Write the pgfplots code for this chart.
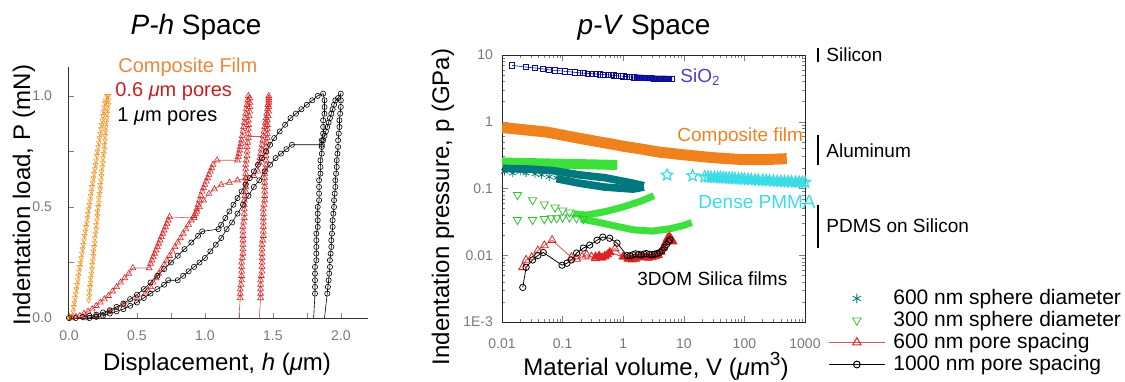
\documentclass[border=0pt]{standalone}
\usepackage{fontspec}
\setmainfont{Liberation Sans}
\usepackage{pgfplots}
\pgfplotsset{compat=1.18}
\definecolor{orng}{RGB}{240,150,40}
\definecolor{orngB}{RGB}{240,130,30}
\definecolor{orngT}{RGB}{235,135,60}
\definecolor{redT}{RGB}{200,30,35}
\definecolor{redM}{RGB}{220,35,35}
\definecolor{redL}{RGB}{200,90,95}
\definecolor{grn}{RGB}{60,225,60}
\definecolor{tealc}{RGB}{0,120,125}
\definecolor{cyanc}{RGB}{60,220,230}
\definecolor{bluec}{RGB}{20,20,200}
\definecolor{blueT}{RGB}{80,60,200}
\definecolor{tickgray}{RGB}{120,120,120}
\pgfdeclareplotmark{ostar}{%
  \pgfpathmoveto{\pgfpointpolar{90}{\pgfplotmarksize}}%
  \pgfpathlineto{\pgfpointpolar{126}{0.45\pgfplotmarksize}}%
  \pgfpathlineto{\pgfpointpolar{162}{\pgfplotmarksize}}%
  \pgfpathlineto{\pgfpointpolar{198}{0.45\pgfplotmarksize}}%
  \pgfpathlineto{\pgfpointpolar{234}{\pgfplotmarksize}}%
  \pgfpathlineto{\pgfpointpolar{270}{0.45\pgfplotmarksize}}%
  \pgfpathlineto{\pgfpointpolar{306}{\pgfplotmarksize}}%
  \pgfpathlineto{\pgfpointpolar{342}{0.45\pgfplotmarksize}}%
  \pgfpathlineto{\pgfpointpolar{18}{\pgfplotmarksize}}%
  \pgfpathlineto{\pgfpointpolar{54}{0.45\pgfplotmarksize}}%
  \pgfpathclose\pgfusepathqstroke}
\begin{document}
\begin{tikzpicture}[x=0.5pt,y=0.5pt]
\useasboundingbox (0,0) rectangle (1125,381);
% ---------------- left: P-h space ----------------
\begin{axis}[at={(34.5pt,31.5pt)}, anchor=south west, scale only axis,
  width=149.5pt, height=125.5pt,
  xmin=0, xmax=2.2, ymin=0, ymax=1.13,
  axis lines*=left, axis line style={black!80, line width=0.5pt},
  tick align=inside, major tick length=2.5pt, minor tick length=2.5pt,
  xtick={0,0.5,1,1.5,2}, minor xtick={0.25,0.75,1.25,1.75},
  ytick={0,0.5,1}, minor ytick={0.25,0.75},
  xticklabels={0.0,0.5,1.0,1.5,2.0}, yticklabels={0.0,0.5,1.0},
  tick label style={font=\fontsize{7}{8}\selectfont, text=tickgray},
  xticklabel style={yshift=-3pt}, yticklabel style={xshift=-5pt},
  clip=false]
% composite film
\addplot[orng, line width=0.3pt, mark=triangle, mark size=1.4pt, mark options={rotate=180}] coordinates {
(0.00,0.00)(0.01,0.00)(0.02,0.01)(0.03,0.03)(0.035,0.05)(0.04,0.07)(0.045,0.09)(0.05,0.11)(0.055,0.13)(0.06,0.15)(0.065,0.17)(0.07,0.19)(0.075,0.21)(0.08,0.23)(0.085,0.25)(0.09,0.27)(0.095,0.29)(0.10,0.31)(0.105,0.33)(0.11,0.35)(0.115,0.37)(0.12,0.39)(0.125,0.41)(0.13,0.43)(0.135,0.45)(0.14,0.47)(0.145,0.49)(0.15,0.51)(0.155,0.53)(0.16,0.55)(0.165,0.57)(0.17,0.59)(0.175,0.61)(0.18,0.63)(0.185,0.65)(0.19,0.67)(0.195,0.69)(0.20,0.71)(0.205,0.73)(0.21,0.75)(0.215,0.77)(0.22,0.79)(0.225,0.81)(0.23,0.83)(0.235,0.85)(0.24,0.87)(0.245,0.89)(0.25,0.91)(0.255,0.93)(0.26,0.95)(0.265,0.97)(0.27,0.98)(0.28,1.00)
(0.29,1.00)(0.29,0.98)(0.29,0.96)(0.285,0.94)(0.28,0.92)(0.28,0.90)(0.275,0.88)(0.27,0.86)(0.27,0.84)(0.265,0.82)(0.265,0.80)(0.26,0.78)(0.26,0.76)(0.255,0.74)(0.25,0.72)(0.25,0.70)(0.245,0.68)(0.24,0.66)(0.24,0.64)(0.235,0.62)(0.23,0.60)(0.23,0.58)(0.225,0.56)(0.22,0.54)(0.22,0.52)(0.215,0.50)(0.21,0.48)(0.21,0.46)(0.205,0.44)(0.20,0.42)(0.20,0.40)(0.195,0.38)(0.19,0.36)(0.19,0.34)(0.185,0.32)(0.18,0.30)(0.18,0.28)(0.175,0.26)(0.17,0.24)(0.17,0.22)(0.165,0.20)(0.16,0.18)(0.16,0.16)(0.155,0.14)(0.15,0.12)(0.15,0.10)(0.145,0.08)};
% 0.6 um pores, indent A
\addplot[redL, line width=0.3pt, mark=triangle, mark size=1.7pt, mark options={redM}] coordinates {
(0.02,0.0)(0.05,0.005)(0.08,0.01)(0.11,0.02)(0.14,0.03)(0.17,0.04)(0.20,0.055)(0.23,0.07)(0.26,0.085)(0.29,0.10)(0.32,0.12)(0.35,0.14)(0.38,0.16)(0.41,0.18)(0.44,0.20)(0.47,0.225)
(0.59,0.225)(0.60,0.245)(0.61,0.26)(0.62,0.275)(0.63,0.29)(0.64,0.305)(0.65,0.32)(0.66,0.335)(0.67,0.35)(0.68,0.365)(0.69,0.38)(0.70,0.395)(0.71,0.41)(0.72,0.425)(0.73,0.44)(0.74,0.455)
(0.92,0.45)(0.93,0.47)(0.94,0.49)(0.95,0.51)(0.96,0.53)(0.97,0.55)(0.98,0.57)(0.99,0.585)(1.00,0.60)(1.01,0.615)(1.02,0.63)(1.03,0.645)(1.04,0.66)(1.05,0.675)(1.06,0.69)(1.09,0.71)
(1.24,0.71)(1.245,0.725)(1.25,0.74)(1.255,0.755)(1.26,0.77)(1.265,0.785)(1.27,0.80)(1.275,0.82)(1.28,0.84)(1.285,0.86)(1.29,0.88)(1.295,0.90)(1.30,0.92)(1.305,0.94)(1.31,0.96)(1.315,0.98)(1.32,1.00)
(1.33,0.99)(1.33,0.97)(1.33,0.95)(1.33,0.93)(1.325,0.91)(1.32,0.89)(1.32,0.87)(1.32,0.85)(1.32,0.83)(1.32,0.81)(1.315,0.79)(1.31,0.77)(1.31,0.75)(1.31,0.73)(1.305,0.71)(1.30,0.69)(1.30,0.67)(1.30,0.65)(1.30,0.63)(1.30,0.61)(1.30,0.59)(1.30,0.57)(1.295,0.55)(1.29,0.53)(1.29,0.51)(1.29,0.49)(1.29,0.47)(1.29,0.45)(1.285,0.43)(1.28,0.41)(1.28,0.39)(1.28,0.37)(1.28,0.35)(1.28,0.33)(1.28,0.31)(1.28,0.29)(1.275,0.27)(1.27,0.25)(1.27,0.23)(1.27,0.21)(1.27,0.19)(1.27,0.17)(1.265,0.15)(1.26,0.13)(1.26,0.11)(1.26,0.09)};
\addplot[redL, line width=0.3pt] coordinates {(1.26,0.09)(1.25,0.0)};
% 0.6 um pores, indent B
\addplot[redL, line width=0.3pt, mark=triangle, mark size=1.7pt, mark options={redM}] coordinates {
(0.12,0.0)(0.2,0.01)(0.3,0.03)(0.4,0.06)(0.5,0.09)(0.56,0.11)(0.58,0.125)(0.6,0.14)(0.62,0.16)(0.64,0.18)(0.66,0.20)(0.68,0.22)(0.70,0.24)(0.72,0.26)(0.74,0.28)(0.76,0.30)(0.78,0.32)(0.80,0.34)(0.82,0.36)(0.84,0.38)(0.86,0.40)(0.88,0.42)(0.90,0.44)(0.92,0.46)(0.94,0.48)(0.96,0.50)(0.99,0.53)(1.03,0.56)(1.07,0.58)(1.12,0.60)(1.18,0.61)(1.24,0.62)(1.30,0.63)(1.36,0.64)(1.39,0.66)
(1.40,0.70)(1.405,0.72)(1.41,0.74)(1.415,0.76)(1.42,0.78)(1.425,0.80)(1.43,0.82)(1.435,0.84)(1.44,0.86)(1.445,0.88)(1.45,0.90)(1.455,0.92)(1.46,0.94)(1.465,0.96)(1.47,0.98)(1.47,1.00)
(1.47,0.99)(1.47,0.97)(1.47,0.95)(1.47,0.93)(1.465,0.91)(1.46,0.89)(1.46,0.87)(1.46,0.85)(1.46,0.83)(1.46,0.81)(1.455,0.79)(1.45,0.77)(1.45,0.75)(1.45,0.73)(1.45,0.71)(1.45,0.69)(1.445,0.67)(1.44,0.65)(1.44,0.63)(1.44,0.61)(1.44,0.59)(1.44,0.57)(1.44,0.55)(1.44,0.53)(1.435,0.51)(1.43,0.49)(1.43,0.47)(1.43,0.45)(1.43,0.43)(1.43,0.41)(1.43,0.39)(1.43,0.37)(1.425,0.35)(1.42,0.33)(1.42,0.31)(1.42,0.29)(1.42,0.27)(1.42,0.25)(1.42,0.23)(1.42,0.21)(1.415,0.19)(1.41,0.17)(1.41,0.15)(1.41,0.13)(1.41,0.11)(1.41,0.09)};
\addplot[redL, line width=0.3pt] coordinates {(1.41,0.09)(1.40,0.0)};
\addplot[redL, line width=0.3pt] coordinates {(1.33,0.82)(1.42,0.82)};
% 1 um pores, indent C
\addplot[black, line width=0.3pt, mark=o, mark size=1.3pt] coordinates {
(0.0,0.0)(0.05,0.0)(0.1,0.005)(0.15,0.01)(0.2,0.015)(0.25,0.025)(0.3,0.035)(0.35,0.05)(0.4,0.065)(0.45,0.085)(0.5,0.105)(0.55,0.13)(0.6,0.16)(0.65,0.19)(0.7,0.22)(0.75,0.25)(0.8,0.28)(0.85,0.31)(0.9,0.34)(0.95,0.37)(0.98,0.39)
(1.10,0.40)(1.12,0.42)(1.15,0.45)(1.18,0.48)(1.21,0.51)(1.24,0.54)(1.27,0.57)(1.30,0.60)(1.33,0.63)(1.36,0.66)(1.39,0.69)(1.42,0.72)(1.45,0.75)(1.48,0.78)(1.51,0.81)(1.55,0.84)(1.59,0.87)(1.63,0.90)(1.67,0.92)(1.71,0.94)(1.75,0.96)(1.79,0.98)(1.83,1.0)(1.87,1.01)
(1.88,0.98)(1.88,0.95)(1.88,0.92)(1.87,0.89)(1.87,0.86)(1.87,0.83)(1.86,0.80)(1.86,0.77)(1.86,0.74)(1.85,0.71)(1.85,0.68)(1.85,0.65)(1.84,0.62)(1.84,0.59)(1.84,0.56)(1.84,0.53)(1.83,0.50)(1.83,0.47)(1.83,0.44)(1.83,0.41)(1.82,0.38)(1.82,0.35)(1.82,0.32)(1.82,0.29)(1.82,0.26)(1.81,0.23)(1.81,0.20)(1.81,0.17)(1.81,0.14)(1.81,0.11)};
\addplot[black, line width=0.3pt] coordinates {(1.81,0.11)(1.80,0.0)};
% 1 um pores, indent D
\addplot[black, line width=0.3pt, mark=o, mark size=1.3pt] coordinates {
(0.15,0.0)(0.2,0.005)(0.25,0.01)(0.3,0.02)(0.35,0.03)(0.4,0.04)(0.45,0.055)(0.5,0.07)(0.55,0.09)(0.6,0.11)(0.65,0.13)(0.7,0.15)(0.73,0.17)
(0.80,0.17)(0.84,0.19)(0.88,0.21)(0.92,0.23)(0.96,0.25)(1.0,0.27)(1.04,0.30)(1.08,0.33)(1.12,0.36)(1.16,0.40)(1.20,0.43)(1.24,0.47)(1.28,0.51)(1.32,0.55)(1.36,0.59)(1.40,0.62)(1.44,0.66)(1.48,0.69)(1.52,0.72)(1.56,0.74)(1.60,0.76)(1.64,0.78)
(1.86,0.78)(1.87,0.80)(1.88,0.82)(1.89,0.84)(1.90,0.86)(1.91,0.88)(1.92,0.90)(1.93,0.92)(1.94,0.94)(1.95,0.96)(1.96,0.98)(1.98,0.99)(2.0,1.01)
(2.00,0.98)(2.00,0.95)(1.995,0.92)(1.99,0.89)(1.99,0.86)(1.985,0.83)(1.98,0.80)(1.98,0.77)(1.975,0.74)(1.97,0.71)(1.97,0.68)(1.965,0.65)(1.96,0.62)(1.96,0.59)(1.955,0.56)(1.95,0.53)(1.95,0.50)(1.945,0.47)(1.94,0.44)(1.94,0.41)(1.935,0.38)(1.93,0.35)(1.93,0.32)(1.925,0.29)(1.92,0.26)(1.92,0.23)(1.915,0.20)(1.91,0.17)(1.905,0.14)(1.90,0.11)};
\addplot[black, line width=0.3pt] coordinates {(1.90,0.11)(1.88,0.0)};
\end{axis}
% ---------------- right: p-V space ----------------
\begin{axis}[at={(251pt,29.5pt)}, anchor=south west, scale only axis,
  width=151.5pt, height=133.5pt,
  xmode=log, ymode=log, xmin=0.01, xmax=1000, ymin=1e-3, ymax=10,
  axis line style={black!85, line width=0.5pt},
  tick align=inside, major tick length=3pt, minor tick length=1.7pt,
  xtick={0.01,0.1,1,10,100,1000}, xticklabels={0.01,0.1,1,10,100,1000},
  ytick={0.001,0.01,0.1,1,10}, yticklabels={1E-3,0.01,0.1,1,10},
  minor xtick={0.02,0.03,0.04,0.05,0.06,0.07,0.08,0.09,0.2,0.3,0.4,0.5,0.6,0.7,0.8,0.9,2,3,4,5,6,7,8,9,20,30,40,50,60,70,80,90,200,300,400,500,600,700,800,900},
  minor ytick={0.002,0.003,0.004,0.005,0.006,0.007,0.008,0.009,0.02,0.03,0.04,0.05,0.06,0.07,0.08,0.09,0.2,0.3,0.4,0.5,0.6,0.7,0.8,0.9,2,3,4,5,6,7,8,9},
  tick label style={font=\fontsize{7}{8}\selectfont, text=tickgray},
  xticklabel style={yshift=-5pt}, yticklabel style={xshift=-1pt},
  legend style={at={(1.056,0.142)}, anchor=north west, draw=none, fill=none,
    font=\fontsize{10.5}{12}\selectfont, row sep=1pt,
    nodes={inner sep=0pt, text height=8pt, text depth=2pt}},
  legend cell align=left,
  legend image code/.code={\path (0pt,0pt) (32pt,0pt);\draw[mark repeat=2,mark phase=2] plot coordinates {(0pt,0pt)(14pt,0pt)(28pt,0pt)};}]
\addlegendimage{only marks, tealc, mark=asterisk, mark size=2.4pt}
\addlegendentry{600 nm sphere diameter}
\addlegendimage{only marks, grn!85!black, mark=triangle, mark size=2.4pt, mark options={rotate=180}}
\addlegendentry{300 nm sphere diameter}
\addlegendimage{redL, line width=0.5pt, mark=triangle, mark size=2.4pt, mark options={redM}}
\addlegendentry{600 nm pore spacing}
\addlegendimage{black, line width=0.5pt, mark=o, mark size=1.7pt}
\addlegendentry{1000 nm pore spacing}
% composite film band
\addplot[orngB, line width=5.5pt, forget plot] coordinates {
(0.01,0.82)(0.02,0.77)(0.055,0.70)(0.1,0.63)(0.2,0.56)(0.4,0.50)(0.68,0.46)(1,0.43)(2,0.39)(4,0.35)(10,0.32)(30,0.29)(100,0.27)(200,0.27)(500,0.28)};
% top green band
\addplot[grn, line width=5pt, forget plot] coordinates {(0.01,0.245)(0.03,0.24)(0.1,0.235)(0.3,0.23)(0.8,0.225)};
% teal 600 nm sphere
\addplot[tealc, line width=3.8pt, forget plot] coordinates {(0.0104,0.20)(0.03,0.195)(0.07,0.185)(0.19,0.16)(0.5,0.145)(1.45,0.12)(2.2,0.11)};
\addplot[tealc, line width=3.8pt, forget plot] coordinates {(0.08,0.14)(0.19,0.12)(0.5,0.105)(1.45,0.098)(2.2,0.105)};
\addplot[tealc, only marks, mark=asterisk, mark size=2pt, forget plot] coordinates {(0.011,0.18)(0.015,0.17)(0.02,0.18)(0.025,0.17)(0.035,0.165)(0.045,0.16)(0.06,0.15)(0.08,0.145)(0.1,0.14)(0.13,0.13)};
% green 300 nm sphere
\addplot[grn, line width=3.5pt, forget plot] coordinates {(0.15,0.042)(0.25,0.04)(0.5,0.045)(1,0.053)(2,0.065)(3.2,0.078)};
\addplot[grn, line width=3.5pt, forget plot] coordinates {(0.2,0.035)(0.4,0.031)(0.8,0.027)(1.5,0.024)(3,0.023)(6,0.025)(10,0.028)(13.5,0.031)};
\addplot[grn!85!black, only marks, mark=triangle, mark size=2.4pt, mark options={rotate=180}, forget plot] coordinates {
(0.018,0.08)(0.032,0.067)(0.05,0.058)(0.075,0.052)(0.1,0.047)(0.13,0.044)(0.018,0.034)(0.032,0.034)(0.05,0.035)(0.065,0.036)(0.08,0.036)(0.1,0.037)(0.13,0.037)(0.17,0.036)(0.22,0.035)};
% dense PMMA
\addplot[cyanc, line width=3.5pt, forget plot] coordinates {(25,0.148)(100,0.138)(300,0.13)(1000,0.124)};
\addplot[cyanc, only marks, mark=ostar, mark size=3pt, line width=0.6pt, forget plot] coordinates {
(5.3,0.159)(14,0.155)(22,0.15)(25,0.149)(28,0.148)(32,0.147)(36,0.146)(40,0.146)(45,0.145)(50,0.144)(56,0.143)(63,0.142)(70,0.141)(80,0.14)(90,0.139)(100,0.138)(115,0.137)(130,0.136)(150,0.135)(170,0.134)(200,0.133)(230,0.132)(260,0.131)(300,0.13)(350,0.129)(400,0.128)(460,0.127)(530,0.127)(600,0.126)(700,0.125)(800,0.125)(900,0.124)(1000,0.124)};
% SiO2
\addplot[bluec!70!black, line width=0.3pt, mark=square, mark size=1.3pt, forget plot] coordinates {
(0.0146,7.0)(0.025,6.6)(0.035,6.4)(0.047,6.2)(0.06,6.0)(0.075,5.9)(0.09,5.8)(0.11,5.7)(0.13,5.6)(0.16,5.5)(0.19,5.4)(0.22,5.35)(0.26,5.3)(0.3,5.25)(0.35,5.2)(0.41,5.15)(0.47,5.1)(0.55,5.05)(0.62,5.0)(0.7,4.95)(0.8,4.9)(0.9,4.85)(1.0,4.8)(1.15,4.75)(1.3,4.7)(1.5,4.65)(1.7,4.6)(1.9,4.6)(2.2,4.55)(2.5,4.5)(2.8,4.5)(3.2,4.45)(3.6,4.45)(4.0,4.4)(4.5,4.4)(5.0,4.4)(5.6,4.4)(6.4,4.4)};
\addplot[bluec, line width=3pt, forget plot] coordinates {(1.5,4.65)(2.5,4.5)(4,4.42)(6.4,4.4)};
% 600 nm pore spacing
\addplot[redL, line width=0.4pt, mark=triangle, mark size=2.3pt, mark options={redM}, forget plot] coordinates {
(0.022,0.0066)(0.025,0.0085)(0.031,0.0093)(0.039,0.0117)(0.05,0.014)(0.067,0.0168)(0.14,0.0093)(0.17,0.0088)(0.21,0.0095)(0.25,0.0102)(0.3,0.0095)(0.35,0.0090)(0.42,0.0092)(0.5,0.0098)(0.6,0.0110)(0.73,0.0126)(1.0,0.0095)};
\addplot[redM, line width=0.4pt, mark=triangle*, mark size=2.3pt, forget plot] coordinates {
(0.35,0.0095)(0.4,0.0098)(0.45,0.0092)(0.5,0.0096)(0.55,0.0102)(0.6,0.0110)(1.0,0.0095)(1.2,0.0088)(1.4,0.0086)(1.6,0.0088)(1.8,0.0092)(2.0,0.0095)(2.3,0.0093)(2.6,0.0091)(3.0,0.0093)(3.4,0.0096)(3.8,0.0100)(4.2,0.0112)(4.6,0.0130)(5.0,0.0155)(5.4,0.0180)(5.8,0.0190)(6.2,0.0175)(6.6,0.0160)};
% 1000 nm pore spacing
\addplot[black, line width=0.4pt, mark=o, mark size=1.6pt, forget plot] coordinates {
(0.022,0.0033)(0.025,0.0066)(0.032,0.0085)(0.039,0.0099)(0.048,0.011)(0.098,0.0071)(0.118,0.0076)(0.14,0.0085)(0.17,0.0108)(0.22,0.0128)(0.28,0.0142)(0.37,0.0168)(0.46,0.0187)(0.6,0.018)(0.79,0.0152)(1.16,0.0099)(1.3,0.0098)(1.45,0.0102)(1.6,0.0105)(1.8,0.0103)(2.0,0.0101)(2.2,0.0104)(2.4,0.0106)(2.7,0.0103)(3.0,0.0102)(3.3,0.0104)(3.6,0.0106)(4.0,0.011)(4.4,0.0118)(4.8,0.013)(5.2,0.0145)(5.6,0.016)(5.9,0.017)};
\end{axis}
% ---------------- titles and labels ----------------
\node[font=\fontsize{14}{16}\selectfont, anchor=base] at (196,346) {\textit{P-h} Space};
\node[font=\fontsize{14}{16}\selectfont, anchor=base] at (644,346) {\textit{p-V} Space};
\node[font=\fontsize{12}{14}\selectfont, rotate=90] at (24,186) {Indentation load, P (mN)};
\node[font=\fontsize{12}{14}\selectfont, anchor=base] at (217,11) {Displacement, \textit{h} (\textit{μ}m)};
\node[font=\fontsize{12}{14}\selectfont, rotate=90] at (443,174) {Indentation pressure, p (GPa)};
\node[font=\fontsize{12}{14}\selectfont, anchor=base] at (656,6) {Material volume, V (\textit{μ}m\raisebox{0.38em}{\fontsize{9.5}{10}\selectfont 3})};
% left inner labels
\node[font=\fontsize{10}{12}\selectfont, text=orngT, anchor=west, inner sep=0pt] at (118,314) {Composite Film};
\node[font=\fontsize{10}{12}\selectfont, text=redT, anchor=west, inner sep=0pt] at (115,289) {0.6 \textit{μ}m pores};
\node[font=\fontsize{10}{12}\selectfont, text=black, anchor=west, inner sep=0pt] at (117,264) {1 \textit{μ}m pores};
% right inner labels
\node[font=\fontsize{9.5}{11}\selectfont, text=blueT, anchor=west, inner sep=0pt] at (680,304) {SiO\textsubscript{2}};
\node[font=\fontsize{9.5}{11}\selectfont, text=orngB, anchor=west, inner sep=0pt] at (677,244) {Composite film};
\node[font=\fontsize{9.5}{11}\selectfont, text=cyanc, anchor=west, inner sep=0pt] at (698,179) {Dense PMMA};
\node[font=\fontsize{9.5}{11}\selectfont, text=black, anchor=west, inner sep=0pt] at (637,102) {3DOM Silica films};
% material reference bars
\draw[line width=0.8pt] (818,333) -- (818,319);
\node[font=\fontsize{9.5}{11}\selectfont, anchor=west, inner sep=0pt] at (826,326) {Silicon};
\draw[line width=0.8pt] (818,246) -- (818,216);
\node[font=\fontsize{9.5}{11}\selectfont, anchor=west, inner sep=0pt] at (826,230) {Aluminum};
\draw[line width=0.8pt] (818,176) -- (818,133);
\node[font=\fontsize{9.5}{11}\selectfont, anchor=west, inner sep=0pt] at (826,155) {PDMS on Silicon};
\end{tikzpicture}
\end{document}
